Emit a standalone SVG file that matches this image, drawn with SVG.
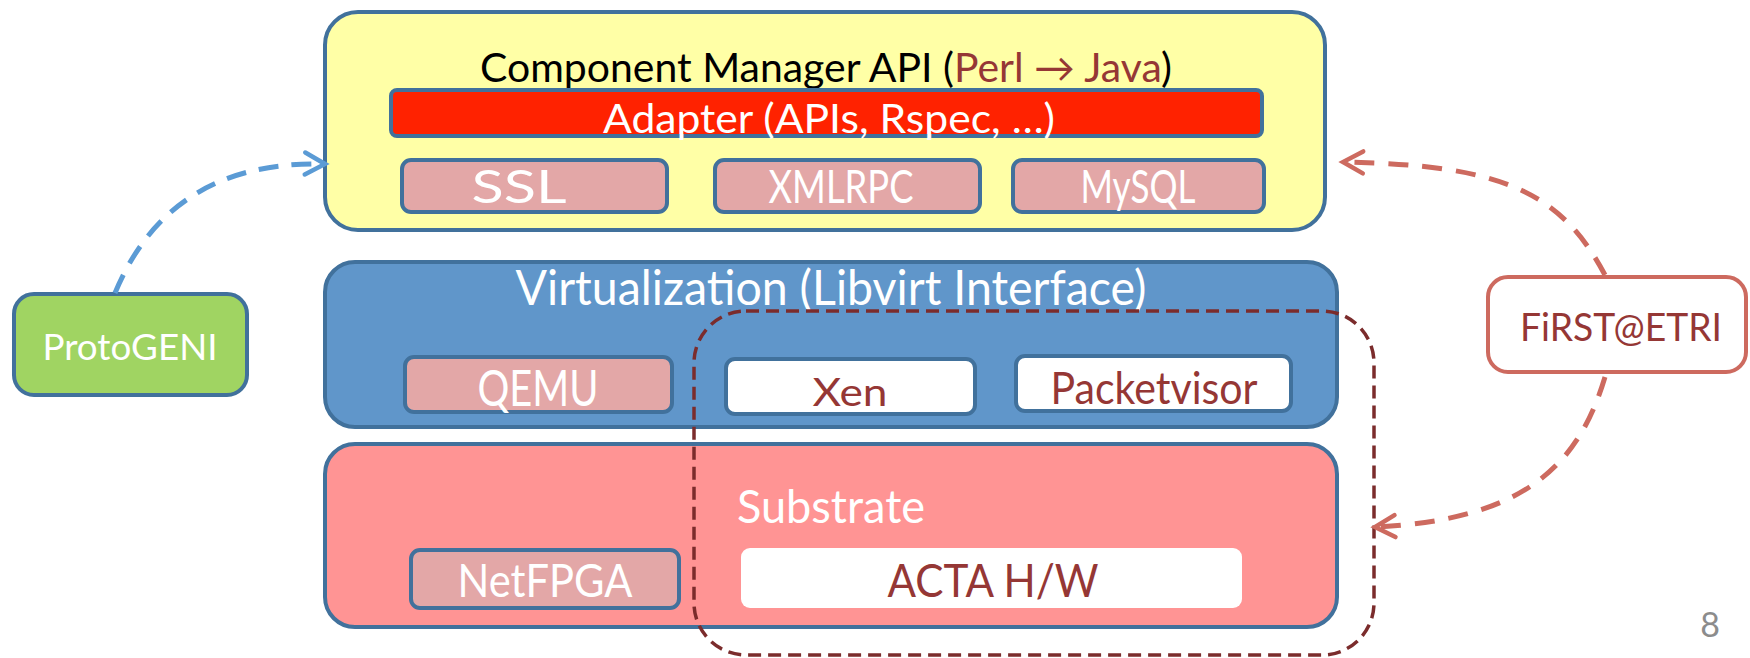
<svg xmlns="http://www.w3.org/2000/svg" width="1750" height="658" viewBox="0 0 1750 658">
<defs>
<style>
text{font-family:"Lato","Liberation Sans",sans-serif;text-anchor:middle}
.box{stroke:#41719C;stroke-width:4}
.sm{fill:#E3A7A7;stroke:#41719C;stroke-width:4}
.wt{fill:#FFFFFF}
.dr{fill:#953735}
</style>
<marker id="ab" viewBox="0 0 30 30" refX="24" refY="15" markerWidth="30" markerHeight="30" markerUnits="userSpaceOnUse" orient="auto">
<polyline points="4,4 24,15 4,26" fill="none" stroke="#5B9BD5" stroke-width="4.5" stroke-linecap="round"/>
</marker>
<marker id="ar" viewBox="0 0 30 30" refX="24" refY="15" markerWidth="30" markerHeight="30" markerUnits="userSpaceOnUse" orient="auto">
<polyline points="4,4 24,15 4,26" fill="none" stroke="#CD6A5F" stroke-width="4.5" stroke-linecap="round"/>
</marker>
</defs>
<rect width="1750" height="658" fill="#FFFFFF"/>

<g id="cm-api">
<rect class="box" x="325" y="12" width="1000" height="218" rx="33" fill="#FFFFA6"/>
<text x="826" y="82" font-size="40" textLength="692" lengthAdjust="spacingAndGlyphs" fill="#000000">Component Manager API (<tspan class="dr">Perl → Java</tspan>)</text>
</g>
<g id="adapter">
<rect class="box" x="391" y="90" width="871" height="46" rx="6" fill="#FF2200"/>
<text class="wt" x="829" y="133" font-size="40" textLength="452" lengthAdjust="spacingAndGlyphs">Adapter (APIs, Rspec, …)</text>
</g>
<g id="ssl">
<rect class="sm" x="402" y="160" width="265" height="52" rx="9"/>
<text class="wt" x="519" y="203" font-size="46" textLength="95" lengthAdjust="spacingAndGlyphs">SSL</text>
</g>
<g id="xmlrpc">
<rect class="sm" x="715" y="160" width="265" height="52" rx="9"/>
<text class="wt" x="841" y="203" font-size="46" textLength="145" lengthAdjust="spacingAndGlyphs">XMLRPC</text>
</g>
<g id="mysql">
<rect class="sm" x="1013" y="160" width="251" height="52" rx="9"/>
<text class="wt" x="1138" y="203" font-size="46" textLength="115" lengthAdjust="spacingAndGlyphs">MySQL</text>
</g>

<g id="virtualization">
<rect class="box" x="325" y="262" width="1012" height="165" rx="30" fill="#6096CA"/>
<text class="wt" x="831" y="305" font-size="49" textLength="631" lengthAdjust="spacingAndGlyphs">Virtualization (Libvirt Interface)</text>
</g>
<g id="qemu">
<rect class="sm" x="405" y="357" width="267" height="55" rx="9"/>
<text class="wt" x="538" y="406" font-size="50" textLength="121" lengthAdjust="spacingAndGlyphs">QEMU</text>
</g>
<g id="xen">
<rect class="box" x="726" y="359" width="249" height="55" rx="9" fill="#FFFFFF"/>
<text class="dr" x="850" y="406" font-size="39" textLength="75" lengthAdjust="spacingAndGlyphs">Xen</text>
</g>
<g id="packetvisor">
<rect class="box" x="1016" y="356" width="275" height="55" rx="9" fill="#FFFFFF"/>
<text class="dr" x="1154" y="404" font-size="44" textLength="207" lengthAdjust="spacingAndGlyphs">Packetvisor</text>
</g>

<g id="substrate">
<rect class="box" x="325" y="444" width="1012" height="183" rx="30" fill="#FF9494"/>
<text class="wt" x="831" y="523" font-size="47" textLength="188" lengthAdjust="spacingAndGlyphs">Substrate</text>
</g>
<g id="netfpga">
<rect class="sm" x="411" y="550" width="268" height="58" rx="9"/>
<text class="wt" x="545" y="597" font-size="46" textLength="175" lengthAdjust="spacingAndGlyphs">NetFPGA</text>
</g>
<g id="acta">
<rect x="741" y="548" width="501" height="60" rx="9" fill="#FFFFFF"/>
<text class="dr" x="993" y="597" font-size="46" textLength="211" lengthAdjust="spacingAndGlyphs">ACTA H/W</text>
</g>

<g id="acta-scope">
<rect x="694" y="311" width="680" height="344" rx="52" fill="none" stroke="#7B2C2C" stroke-width="3.5" stroke-dasharray="13,7"/>
</g>

<g id="protogeni">
<rect class="box" x="14" y="294" width="233" height="101" rx="20" fill="#A0D462"/>
<text class="wt" x="130" y="360" font-size="37" textLength="175" lengthAdjust="spacingAndGlyphs">ProtoGENI</text>
</g>
<g id="first-etri">
<rect x="1488" y="277" width="258" height="95" rx="20" fill="#FFFFFF" stroke="#CD6A5F" stroke-width="4"/>
<text class="dr" x="1621" y="341" font-size="38" textLength="202" lengthAdjust="spacingAndGlyphs">FiRST@ETRI</text>
</g>

<g id="connectors" fill="none" stroke-width="5">
<path d="M115,293 Q170,160 325,164" stroke="#5B9BD5" stroke-dasharray="20,13" marker-end="url(#ab)"/>
<path d="M1605,275 C1560,190 1500,165 1343,162" stroke="#CD6A5F" stroke-dasharray="20,14" marker-end="url(#ar)"/>
<path d="M1605,377 C1580,460 1530,520 1375,527" stroke="#CD6A5F" stroke-dasharray="20,14" marker-end="url(#ar)"/>
</g>

<text x="1710" y="637" font-size="34" fill="#8C8C8C" font-family="Liberation Sans, sans-serif">8</text>
</svg>
